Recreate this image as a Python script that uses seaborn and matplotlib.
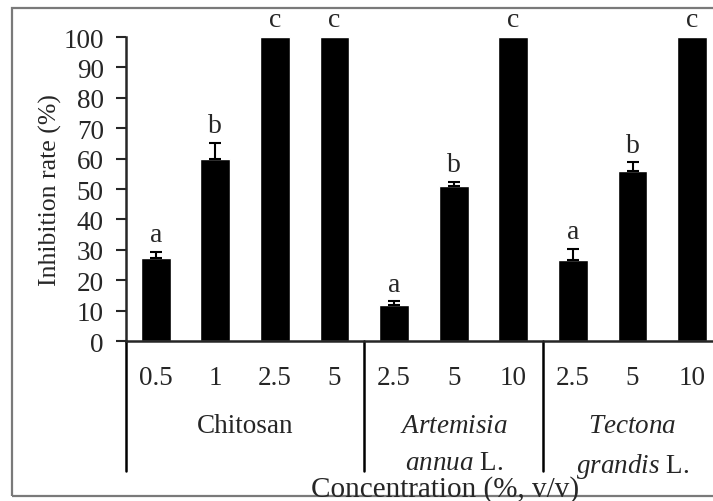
import matplotlib
matplotlib.use("Agg")
import matplotlib.pyplot as plt
import matplotlib.patches as mpatches
import numpy as np
import pandas as pd
import seaborn as sns

# data
groups = ["Chitosan"] * 4 + ["Artemisia"] * 3 + ["Tectona"] * 3
concentrations = ["0.5", "1", "2.5", "5", "2.5", "5", "10", "2.5", "5", "10"]
inhibition = [27.3, 60.0, 100, 100, 11.9, 51.1, 100, 26.6, 55.8, 100]
errors = [2.0, 5.2, 0, 0, 1.1, 1.2, 0, 3.7, 3.0, 0]
letters = ["a", "b", "c", "c", "a", "b", "c", "a", "b", "c"]
group_names = ["Chitosan",
               r"$\mathit{Artemisia}$" + "\n" + r"$\mathit{annua}$ L.",
               r"$\mathit{Tectona}$" + "\n" + r"$\mathit{grandis}$ L."]
y_ticks = [0, 10, 20, 30, 40, 50, 60, 70, 80, 90, 100]

df = pd.DataFrame({"key": [str(i) for i in range(len(inhibition))],
                   "group": groups,
                   "inhibition": inhibition})

sns.set_style("ticks")
plt.rcParams["font.family"] = ["Liberation Serif", "DejaVu Serif"]
plt.rcParams["mathtext.fontset"] = "custom"
plt.rcParams["mathtext.rm"] = "Liberation Serif"
plt.rcParams["mathtext.it"] = "Liberation Serif:italic"

fig = plt.figure(figsize=(7.13, 5.02), dpi=100)
ax = fig.add_axes([0.1767, 0.3187, 0.8233, 0.6056])

sns.barplot(data=df, x="key", y="inhibition", color="black", width=0.5,
            errorbar=None, saturation=1, ax=ax)

#upper error bars only
pos = np.arange(len(inhibition))
err = np.array(errors)
mask = err > 0
ax.errorbar(pos[mask], np.array(inhibition)[mask],
            yerr=[np.zeros(mask.sum()), err[mask]],
            fmt="none", ecolor="black", elinewidth=1.5, capsize=4, capthick=1.5)

#significance letters
for i in range(len(inhibition)):
    ax.text(pos[i], inhibition[i] + errors[i] + 3.5, letters[i],
            ha="center", va="baseline", fontsize=20, clip_on=False)

ax.set_ylim(0, 100)
ax.set_xlim(-0.5, 9.35)
ax.set_yticks(y_ticks)
ax.set_xticks(pos)
ax.set_xticklabels(concentrations)
ax.tick_params(axis="y", length=7, width=1.5, labelsize=19.5, pad=9, direction="out")
ax.tick_params(axis="x", length=0, labelsize=19.5, pad=17)
sns.despine(ax=ax)
for s in ["left", "bottom"]:
    ax.spines[s].set_linewidth(1.8)
ax.set_xlabel("")
ax.set_ylabel("Inhibition rate (%)", fontsize=18.5, labelpad=1)

#group separators below the axis
for x in [-0.5, 3.5, 6.5]:
    ax.plot([x, x], [0, -42.7], color="black", lw=1.8, clip_on=False)

#group names
group_order = ["Chitosan", "Artemisia", "Tectona"]
for g, name in zip(group_order, group_names):
    center = np.mean(pos[np.array(groups) == g])
    ax.text(center, -23.8, name, ha="center", va="top",
            fontsize=19.5, linespacing=1.6, clip_on=False)

fig.text(0.624, 0.052, "Concentration (%, v/v)", ha="center", va="top", fontsize=21)

#grey frame around the figure
fig.add_artist(mpatches.Rectangle((0.017, 0.01), 1.2, 0.973, transform=fig.transFigure,
                                  fill=False, edgecolor="#7a7a7a", lw=1.6))

fig.savefig("out.png", dpi=100)
